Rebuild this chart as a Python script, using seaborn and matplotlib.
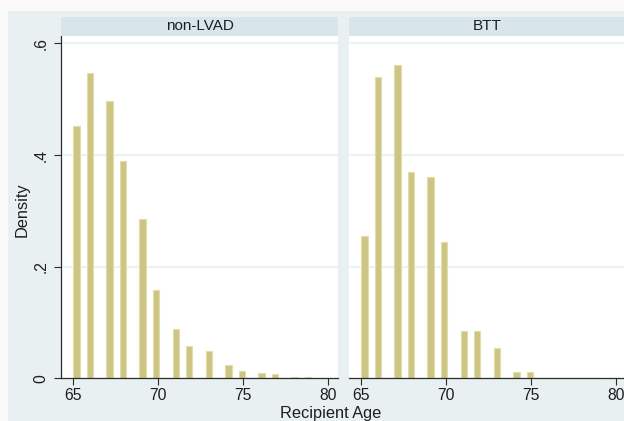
import numpy as np
import pandas as pd
import matplotlib
matplotlib.use("Agg")
import matplotlib.pyplot as plt
import seaborn as sns

# integer ages and the densities
nonlvad_age = [65, 66, 67, 68, 69, 70, 71, 72, 73, 74, 75, 76, 77, 78, 79]
nonlvad_density = [0.452, 0.546, 0.497, 0.390, 0.285, 0.158, 0.088, 0.058,
                   0.049, 0.024, 0.013, 0.0095, 0.007, 0.002, 0.002]

btt_age = [65, 66, 67, 68, 69, 70, 71, 72, 73, 74, 75]
btt_density = [0.254, 0.539, 0.561, 0.370, 0.360, 0.244, 0.085, 0.085,
               0.054, 0.011, 0.011]

panels = ["non-LVAD", "BTT"]
xticks = [65, 70, 75, 80]
yticks = [0, 0.2, 0.4, 0.6]
ytick_labels = ["0", ".2", ".4", ".6"]

# common bins (Stata style: 36 bins over 65-79, intervals closed on the right)
lo, hi, nbins = 65, 79, 36
bw = (hi - lo) / nbins


def bin_centers(ages):
    k = (np.asarray(ages, dtype=float) - lo) / bw
    idx = np.clip(np.ceil(k - 1e-9) - 1, 0, nbins - 1)
    return lo + (idx + 0.5) * bw


sns.set_style("white")
plt.rcParams["font.family"] = ["Liberation Sans", "DejaVu Sans"]

W, H = 624, 421
fig = plt.figure(figsize=(W / 100, H / 100), dpi=100)
fig.patch.set_facecolor("#fbf9fa")
fig.patches.append(plt.Rectangle((8 / W, 0), 1, 1 - 11 / H, transform=fig.transFigure,
                                 facecolor="#e8f0f2", edgecolor="none", zorder=-10))

bar_fill = "#ccc585"
bar_edge = "#e2dea6"
grid_c = "#e8f0f2"
axis_c = "#2b2b2b"
txt_c = "#1e1e1e"

ax_bottom = 1 - 378.3 / H
ax_h = (378.3 - 36) / H
ax_w = 277 / W
lefts = [61 / W, 349 / W]
data = [(nonlvad_age, nonlvad_density), (btt_age, btt_density)]

for i, (name, (ages, dens)) in enumerate(zip(panels, data)):
    df = pd.DataFrame({"center": bin_centers(ages), "density": dens})
    ax = fig.add_axes([lefts[i], ax_bottom, ax_w, ax_h])
    ax.set_facecolor("white")
    for y in yticks[1:]:
        ax.axhline(y, color=grid_c, lw=1.2, zorder=0)
    sns.histplot(data=df, x="center", weights="density", binwidth=bw,
                 binrange=(lo, hi), stat="count",
                 color=bar_fill, edgecolor=bar_edge, linewidth=0.8, alpha=1,
                 ax=ax, zorder=2)
    ax.set_xlim(64.27, 80.57)
    ax.set_ylim(0, 0.613)
    ax.set_xticks(xticks)
    ax.set_xticklabels([str(t) for t in xticks], fontsize=11.3, color=txt_c)
    ax.tick_params(axis="x", length=5, width=0.8, color=axis_c, pad=2, direction="out",
                   bottom=True)
    ax.set_xlabel("")
    ax.set_ylabel("")
    for s in ["top", "right"]:
        ax.spines[s].set_visible(False)
    ax.spines["bottom"].set_color(axis_c)
    ax.spines["bottom"].set_linewidth(0.9)
    if i == 0:
        ax.set_yticks(yticks)
        ax.set_yticklabels(ytick_labels, rotation=90, va="center", fontsize=11.3,
                           color=txt_c)
        ax.tick_params(axis="y", length=5, width=0.8, color=axis_c, pad=4,
                       direction="out", left=True)
        ax.spines["left"].set_color(axis_c)
        ax.spines["left"].set_linewidth(0.9)
    else:
        ax.set_yticks([])
        ax.spines["left"].set_visible(False)

    # strip header
    sax = fig.add_axes([lefts[i], 1 - 36 / H, ax_w, 19.3 / H])
    sax.set_facecolor("#d8e5ea")
    sax.set_xticks([])
    sax.set_yticks([])
    for s in sax.spines.values():
        s.set_visible(False)
    sax.text(0.5, 0.5, name, ha="center", va="center", fontsize=11, color=txt_c,
             transform=sax.transAxes)

fig.text(22 / W, 1 - 210 / H, "Density", rotation=90, ha="center", va="center",
         fontsize=11.8, color=txt_c)
fig.text(331 / W, 1 - 406 / H, "Recipient Age", ha="center", va="top",
         fontsize=11.8, color=txt_c)

fig.savefig("out.png", dpi=100, facecolor=fig.get_facecolor())
